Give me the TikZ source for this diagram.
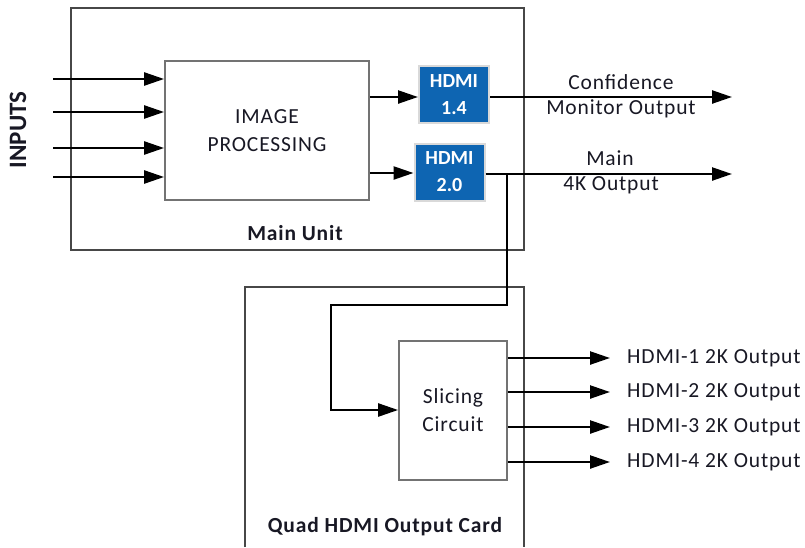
\documentclass[tikz,border=0pt]{standalone}
\usepackage{fontspec}
\setmainfont{Carlito}
\newfontfamily\lblfont[LetterSpace=4]{Carlito}
\usetikzlibrary{arrows.meta}
\definecolor{hdmiblue}{RGB}{14,101,178}
\definecolor{txt}{RGB}{24,24,36}
\begin{document}
\begin{tikzpicture}[x=1pt,y=-1pt,
  frame/.style={draw=black!72,line width=1.2pt},
  block/.style={draw=black!55,line width=1.8pt,fill=white,inner sep=0pt,text=txt,align=center,font=\lblfont\fontsize{21.5}{28}\selectfont},
  hdmi/.style={draw=black!15,line width=2pt,fill=hdmiblue,text=white,align=center,inner sep=0pt,minimum width=70pt,minimum height=57pt,font=\bfseries\fontsize{20}{27}\selectfont},
  sig/.style={line width=2.4pt,-{Triangle[length=20pt,width=13pt]}},
  lbl/.style={text=txt,font=\lblfont\fontsize{21.5}{28}\selectfont,inner sep=0pt,align=center},
  title/.style={text=txt,font=\lblfont\bfseries\fontsize{21.5}{28}\selectfont,inner sep=0pt}
]
\useasboundingbox (0,0) rectangle (805,547);
% frames
\draw[frame] (71,8) rectangle (524,250);
\draw[frame] (245,547) -- (245,287) -- (524,287) -- (524,547);
\node[title] (mainunit) at (295,233) {Main Unit};
\node[title] (quadcard) at (385,527) {Quad HDMI Output Card};
% blocks
\node[block,minimum width=204pt,minimum height=139pt] (ip) at (267,130.5) {IMAGE\\PROCESSING};
\node[block,minimum width=108pt,minimum height=139pt] (slic) at (453,410.5) {Slicing\\Circuit};
\node[hdmi] (h14) at (454,94.5) {HDMI\\1.4};
\node[hdmi] (h20) at (449.5,172) {HDMI\\2.0};
% inputs
\node[text=txt,font=\bfseries\fontsize{25}{30}\selectfont,rotate=90,inner sep=0pt] (inputs) at (18,130) {INPUTS};
\foreach \y [count=\i] in {79,112,148,177}{
  \coordinate (in\i) at (53,\y);
  \draw[sig] (in\i) -- (in\i -| ip.west);
}
% processing to HDMI
\coordinate (a14) at (369,97);
\coordinate (a20) at (369,173);
\draw[sig] (a14 -| ip.east) -- (a14 -| h14.west);
\draw[sig] (a20 -| ip.east) -- (a20 -| h20.west);
% main outputs
\coordinate (o14) at (732,97);
\coordinate (o20) at (732,174);
\draw[sig] (o14 -| h14.east) -- (o14);
\draw[sig] (o20 -| h20.east) -- (o20);
\node[lbl] (conf1) at (621,82) {Confidence};
\node[lbl] (conf2) at (621,109) {Monitor Output};
\node[lbl] (main1) at (610,158) {Main};
\node[lbl] (main2) at (611,185) {4K Output};
% feed to slicing
\coordinate (j) at (507,174);
\coordinate (b1) at (507,305);
\coordinate (b2) at (331,305);
\coordinate (b3) at (331,410);
\draw[sig] (j) -- (b1) -- (b2) -- (b3) -- (slic.west |- b3);
% slicing outputs
\foreach \y [count=\i] in {358,392,427,462}{
  \coordinate (s\i) at (610,\y);
  \draw[sig] (s\i -| slic.east) -- (s\i);
  \node[lbl,anchor=west] (sl\i) at (627,\y) {HDMI-\i{} 2K Output};
}
\end{tikzpicture}
\end{document}
